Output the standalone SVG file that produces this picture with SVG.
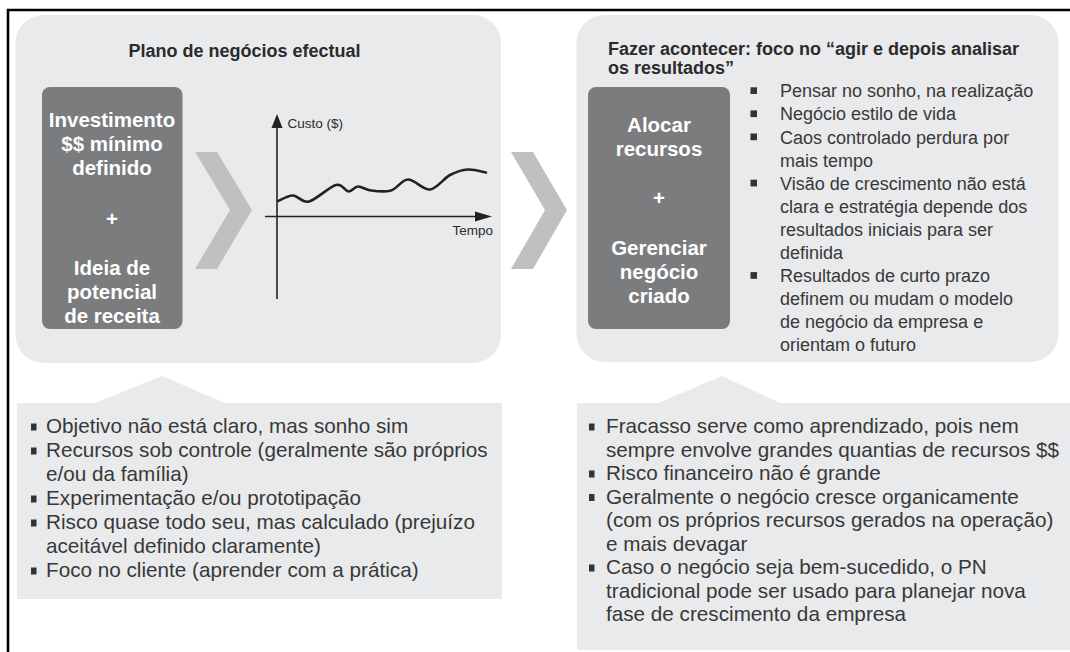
<svg xmlns="http://www.w3.org/2000/svg" width="1070" height="652" viewBox="0 0 1070 652">
<style>
  .panel { fill: #e9eaec; }
  .dark { fill: #7b7c7e; }
  .chev { fill: #bfc0c2; }
  .title { font-family: "Liberation Sans", Arial, sans-serif; font-weight: bold; font-size: 18px; fill: #2b2b2b; }
  .boxtxt { font-family: "Liberation Sans", Arial, sans-serif; font-weight: bold; font-size: 20.5px; fill: #ffffff; text-anchor: middle; }
  .bul { font-family: "Liberation Sans", Arial, sans-serif; font-size: 18px; fill: #383838; }
  .bul2 { font-family: "Liberation Sans", Arial, sans-serif; font-size: 20.7px; fill: #383838; }
  .axlbl { font-family: "Liberation Sans", Arial, sans-serif; font-size: 13.5px; fill: #2b2b2b; }
  .sq { fill: #333333; }
  .axis { stroke: #222222; stroke-width: 1.6; fill: none; }
  .curve { stroke: #222222; stroke-width: 2.6; fill: none; stroke-linecap: round; stroke-linejoin: round; }
</style>
<rect x="0" y="0" width="1070" height="652" fill="#ffffff"/>
<g id="frame">
  <path d="M8,652 V10 H1070" fill="none" stroke="#000000" stroke-width="2.6"/>
</g>

<g id="panel-left">
  <rect class="panel" x="15.5" y="15" width="485.5" height="348" rx="28"/>
  <text class="title" x="244.5" y="57" text-anchor="middle">Plano de negócios efectual</text>
</g>

<g id="box-left">
  <rect class="dark" x="42" y="87" width="140.5" height="242" rx="8"/>
  <text class="boxtxt" x="112" y="127">Investimento</text>
  <text class="boxtxt" x="112" y="151">$$ mínimo</text>
  <text class="boxtxt" x="112" y="175">definido</text>
  <text class="boxtxt" x="112" y="226">+</text>
  <text class="boxtxt" x="112" y="275">Ideia de</text>
  <text class="boxtxt" x="112" y="299">potencial</text>
  <text class="boxtxt" x="112" y="323">de receita</text>
</g>

<g id="chart">
  <line class="axis" x1="277" y1="126" x2="277" y2="299"/>
  <polygon points="277,114 271.5,128 282.5,128" fill="#222222"/>
  <line class="axis" x1="265" y1="216.5" x2="478" y2="216.5"/>
  <polygon points="492,216.5 475,211.5 475,221.5" fill="#222222"/>
  <text class="axlbl" x="287.5" y="128">Custo ($)</text>
  <text class="axlbl" x="493" y="235" text-anchor="end">Tempo</text>
  <path class="curve" d="M278,201 C280.5,200.1 287.8,195.4 293,195.5 C298.2,195.6 301.8,203.25 309,201.5 C316.2,199.75 329.4,186.7 336,185 C342.6,183.3 344.8,191.25 348.5,191.5 C352.2,191.75 354.25,186.7 358,186.5 C361.75,186.3 365.5,189.8 371,190.5 C376.5,191.2 384.8,192.3 391,190.5 C397.2,188.7 401.5,179.7 408,179.5 C414.5,179.3 423,190.25 430,189.5 C437,188.75 443.7,178.3 450,175 C456.3,171.7 462,169.9 468,169.5 C474,169.1 483,172 486,172.5"/>
</g>

<g id="panel-right">
  <rect class="panel" x="576.5" y="15" width="482" height="347" rx="28"/>
  <text class="title" x="608" y="55">Fazer acontecer: foco no “agir e depois analisar</text>
  <text class="title" x="608" y="74">os resultados”</text>
  <rect class="sq" x="750.5" y="87.3" width="6.5" height="6.7"/>
  <rect class="sq" x="750.5" y="110.4" width="6.5" height="6.7"/>
  <rect class="sq" x="750.5" y="133.5" width="6.5" height="6.7"/>
  <rect class="sq" x="750.5" y="179.7" width="6.5" height="6.7"/>
  <rect class="sq" x="750.5" y="272.1" width="6.5" height="6.7"/>
  <text class="bul" x="780" y="97.3">Pensar no sonho, na realização</text>
  <text class="bul" x="780" y="120.4">Negócio estilo de vida</text>
  <text class="bul" x="780" y="143.5">Caos controlado perdura por</text>
  <text class="bul" x="780" y="166.6">mais tempo</text>
  <text class="bul" x="780" y="189.7">Visão de crescimento não está</text>
  <text class="bul" x="780" y="212.8">clara e estratégia depende dos</text>
  <text class="bul" x="780" y="235.9">resultados iniciais para ser</text>
  <text class="bul" x="780" y="259">definida</text>
  <text class="bul" x="780" y="282.1">Resultados de curto prazo</text>
  <text class="bul" x="780" y="305.2">definem ou mudam o modelo</text>
  <text class="bul" x="780" y="328.3">de negócio da empresa e</text>
  <text class="bul" x="780" y="351.4">orientam o futuro</text>
</g>

<g id="box-right">
  <rect class="dark" x="588" y="87" width="142" height="242" rx="8"/>
  <text class="boxtxt" x="659" y="132">Alocar</text>
  <text class="boxtxt" x="659" y="156">recursos</text>
  <text class="boxtxt" x="659" y="205">+</text>
  <text class="boxtxt" x="659" y="255">Gerenciar</text>
  <text class="boxtxt" x="659" y="279">negócio</text>
  <text class="boxtxt" x="659" y="303">criado</text>
</g>

<g id="callout-left">
  <path class="panel" d="M17,403 H95 L162,376 L225,403 H502 V599 H17 Z"/>
  <rect class="sq" x="31" y="423.5" width="5.5" height="7"/>
  <rect class="sq" x="31" y="447.5" width="5.5" height="7"/>
  <rect class="sq" x="31" y="495.5" width="5.5" height="7"/>
  <rect class="sq" x="31" y="519.5" width="5.5" height="7"/>
  <rect class="sq" x="31" y="567.5" width="5.5" height="7"/>
  <text class="bul2" x="46" y="433">Objetivo não está claro, mas sonho sim</text>
  <text class="bul2" x="46" y="457">Recursos sob controle (geralmente são próprios</text>
  <text class="bul2" x="46" y="481">e/ou da família)</text>
  <text class="bul2" x="46" y="505">Experimentação e/ou prototipação</text>
  <text class="bul2" x="46" y="529">Risco quase todo seu, mas calculado (prejuízo</text>
  <text class="bul2" x="46" y="553">aceitável definido claramente)</text>
  <text class="bul2" x="46" y="577">Foco no cliente (aprender com a prática)</text>
</g>

<g id="callout-right">
  <path class="panel" d="M577,403 H658 L722,376 L780,403 H1070 V650 H577 Z"/>
  <rect class="sq" x="589" y="423.5" width="5.5" height="7"/>
  <rect class="sq" x="589" y="470.5" width="5.5" height="7"/>
  <rect class="sq" x="589" y="494" width="5.5" height="7"/>
  <rect class="sq" x="589" y="564.5" width="5.5" height="7"/>
  <text class="bul2" x="606" y="433">Fracasso serve como aprendizado, pois nem</text>
  <text class="bul2" x="606" y="456.5">sempre envolve grandes quantias de recursos $$</text>
  <text class="bul2" x="606" y="480">Risco financeiro não é grande</text>
  <text class="bul2" x="606" y="503.5">Geralmente o negócio cresce organicamente</text>
  <text class="bul2" x="606" y="527">(com os próprios recursos gerados na operação)</text>
  <text class="bul2" x="606" y="550.5">e mais devagar</text>
  <text class="bul2" x="606" y="574">Caso o negócio seja bem-sucedido, o PN</text>
  <text class="bul2" x="606" y="597.5">tradicional pode ser usado para planejar nova</text>
  <text class="bul2" x="606" y="621">fase de crescimento da empresa</text>
</g>

<g id="connectors">
  <polygon class="chev" points="195,152 217,152 252,210 217,269 195,269 230,210"/>
  <polygon class="chev" points="511,152 533,152 567,210 533,269 511,269 545,210"/>
</g>
</svg>
